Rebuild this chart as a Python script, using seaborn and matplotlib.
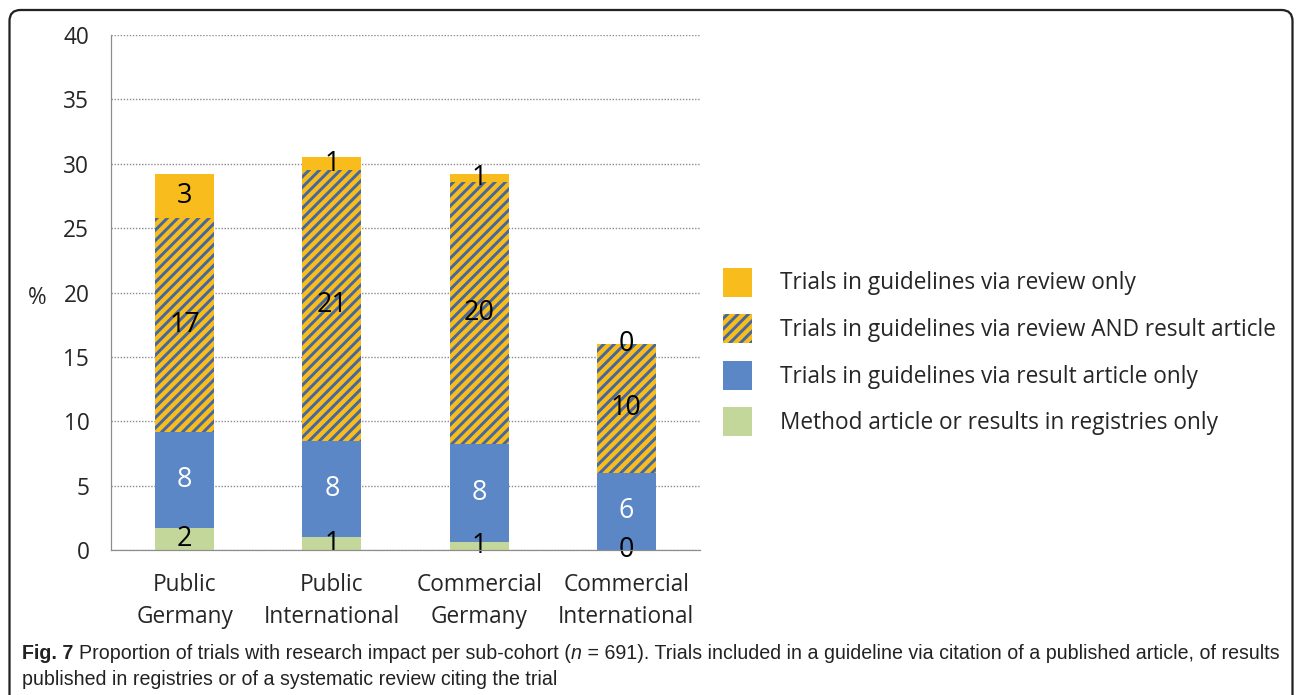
import numpy as np
import pandas as pd
import matplotlib
matplotlib.use("Agg")
import matplotlib.pyplot as plt
import seaborn as sns
from matplotlib.patches import Patch, FancyBboxPatch
from matplotlib.transforms import IdentityTransform

# ---------------- data ----------------
categories = ["Public\nGermany", "Public\nInternational", "Commercial\nGermany", "Commercial\nInternational"]
method_registry = [1.7, 1.0, 0.6, 0.0]       # green
result_only = [7.5, 7.5, 7.6, 6.0]           # blue
review_and_result = [16.6, 21.0, 20.4, 10.0] # hatched
review_only = [3.4, 1.0, 0.6, 0.0]           # yellow
series_labels = [
    "Trials in guidelines via review only",
    "Trials in guidelines via review AND result article",
    "Trials in guidelines via result article only",
    "Method article or results in registries only",
]
yticks = [0, 5, 10, 15, 20, 25, 30, 35, 40]

# ---------------- style ----------------
YELLOW = "#F8BD1C"
BLUE = "#5B87C6"
GREEN = "#C4D79B"
HATCH = "#46689F"
AXGRAY = "#8C8C8C"

sns.set_theme(style="white")
plt.rcParams["font.family"] = ["Open Sans", "DejaVu Sans"]
plt.rcParams["hatch.linewidth"] = 1.7
plt.rcParams["hatch.color"] = HATCH

DPI = 125
W, H = 1298, 695
FS = 13
fig = plt.figure(figsize=(W / DPI, H / DPI), dpi=DPI)
ax = fig.add_axes([111 / W, 1 - 550 / H, 589 / W, 515 / H])

df = pd.DataFrame({
    "cat": categories,
    "green": method_registry,
    "blue": result_only,
    "hatch": review_and_result,
    "yellow": review_only,
})
layers = ["green", "blue", "hatch", "yellow"]
cum = df[layers].cumsum(axis=1)
colors = {"green": GREEN, "blue": BLUE, "hatch": YELLOW, "yellow": YELLOW}

for layer in reversed(layers):
    n0 = len(ax.patches)
    sns.barplot(x=df["cat"], y=cum[layer], color=colors[layer], saturation=1,
                width=0.4, errorbar=None, ax=ax, linewidth=0)
    if layer == "hatch":
        for p in ax.patches[n0:]:
            p.set_hatch("////")
            p.set_edgecolor(HATCH)
            p.set_linewidth(0)

# data labels
for i in range(len(df)):
    bottom = 0.0
    for layer in layers:
        v = df[layer].iloc[i]
        col = "white" if layer == "blue" else "black"
        ax.text(i, bottom + v / 2, f"{v:.0f}", ha="center", va="center",
                fontsize=15.5, color=col)
        bottom += v

ax.set_xlim(-0.5, 3.5)
ax.set_ylim(0, 40)
ax.set_yticks(yticks)
ax.set_yticklabels([str(t) for t in yticks], fontsize=FS)
ax.set_xticks(range(len(categories)))
ax.set_xticklabels(categories, fontsize=FS, linespacing=1.46)
ax.set_xticks(np.arange(-0.5, 4.0, 1.0), minor=True)
ax.tick_params(axis="x", which="major", length=0, pad=13)
ax.tick_params(axis="x", which="minor", length=4.6, width=0.7, color=AXGRAY, direction="out")
ax.tick_params(axis="y", which="major", length=4.0, width=0.7, color=AXGRAY, direction="out", pad=8.5)
ax.set_xlabel("")
ax.set_ylabel("%", rotation=0, fontsize=FS, ha="center", va="center")
ax.yaxis.set_label_coords((37.5 - 111) / 589, (550 - 298) / 515)

for s in ["top", "right"]:
    ax.spines[s].set_visible(False)
for s in ["left", "bottom"]:
    ax.spines[s].set_color(AXGRAY)
    ax.spines[s].set_linewidth(0.7)
    ax.spines[s].set_zorder(3)

ax.yaxis.grid(True, color=AXGRAY, linestyle=(0, (1, 1.2)), linewidth=0.8)
ax.xaxis.grid(False)
ax.set_axisbelow(True)

# legend
handles = [
    Patch(facecolor=YELLOW, edgecolor="none"),
    Patch(facecolor=YELLOW, edgecolor=HATCH, hatch="////", linewidth=0),
    Patch(facecolor=BLUE, edgecolor="none"),
    Patch(facecolor=GREEN, edgecolor="none"),
]
fig.legend(handles, series_labels, loc="center left",
           bbox_to_anchor=(723 / W, 1 - 352 / H), frameon=False, fontsize=FS,
           handlelength=1.285, handleheight=1.6, handletextpad=1.24,
           labelspacing=0.78, borderpad=0, borderaxespad=0)

# frame box
box = FancyBboxPatch((9.5, -30), 1283, 695 - 10 + 30, boxstyle="round,pad=0,rounding_size=11",
                     transform=IdentityTransform(), fill=False, edgecolor="#222222",
                     linewidth=1.3, figure=fig)
fig.patches.append(box)

# caption
cap_fam = ["Liberation Sans", "DejaVu Sans"]
line1 = [("Fig. 7 ", "bold", "normal"),
         ("Proportion of trials with research impact per sub-cohort (", "normal", "normal"),
         ("n", "normal", "italic"),
         (" = 691). Trials included in a guideline via citation of a published article, of results", "normal", "normal")]
line2 = "published in registries or of a systematic review citing the trial"
fig.canvas.draw()
renderer = fig.canvas.get_renderer()


def place_line1(size):
    arts = []
    x = 22
    for txt, wt, st in line1:
        t = fig.text(x / W, (H - 659) / H, txt, fontsize=size, fontweight=wt, fontstyle=st,
                     family=cap_fam, color="#222222", ha="left", va="baseline")
        arts.append(t)
        x = t.get_window_extent(renderer=renderer).x1
    return arts, x


arts, xend = place_line1(9.0)
for a in arts:
    a.remove()
cap_size = 9.0 * (1275 - 22) / (xend - 22)
place_line1(cap_size)
fig.text(22 / W, (H - 685) / H, line2,
         fontsize=cap_size, family=cap_fam, color="#222222", ha="left", va="baseline")

fig.savefig("out.png", dpi=DPI)
